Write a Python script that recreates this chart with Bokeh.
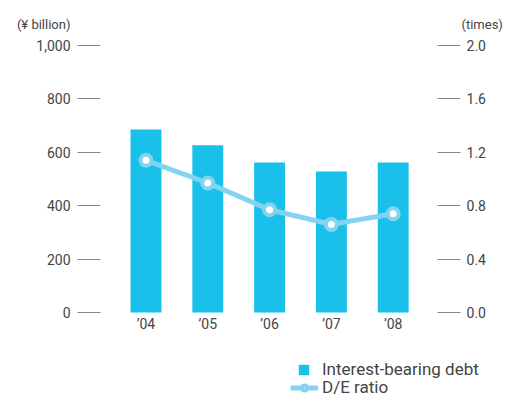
from bokeh.plotting import figure
from bokeh.models import (Range1d, LinearAxis, FixedTicker, NumeralTickFormatter,
                          Legend, LegendItem, ColumnDataSource, Label)
from bokeh.embed import file_html
from bokeh.resources import INLINE

years = ["’04", "’05", "’06", "’07", "’08"]
debt = [685, 626, 562, 528, 562]          # ¥ billion
de_ratio = [1.14, 0.97, 0.77, 0.66, 0.74]  # times
left_ticks = [0, 200, 400, 600, 800, 1000]
right_ticks = [0.0, 0.4, 0.8, 1.2, 1.6, 2.0]
units = ["(¥ billion)", "(times)"]
series = ["Interest-bearing debt", "D/E ratio"]

BAR = "#19C0E9"
LINE = "#84D4F1"
TXT = "#444444"
FONT = "Roboto"

# plotting area edges in x-data units (category index)
X_LEFT, X_RIGHT = -0.736, 4.717

xs = list(range(len(years)))
src = ColumnDataSource(dict(x=xs, debt=debt, de=de_ratio))

p = figure(width=522, height=397, output_backend="svg", toolbar_location=None,
           x_range=Range1d(-2.354, 6.092), y_range=Range1d(-318.4, 1168.5),
           x_axis_type=None, y_axis_type=None,
           min_border=0, min_border_left=0, min_border_right=0,
           min_border_top=0, min_border_bottom=0)
p.extra_y_ranges = {"de": Range1d(-0.6367, 2.337)}
p.outline_line_color = None

bars = p.vbar(x="x", top="debt", width=0.5, source=src, color=BAR, line_color=None)
ln = p.line(x="x", y="de", source=src, y_range_name="de", line_color=LINE, line_width=5)
mk = p.scatter(x="x", y="de", source=src, y_range_name="de", size=11,
               fill_color="white", line_color=LINE, line_width=4)

# x axis fixed at y = 0
xa = LinearAxis(fixed_location=0, ticker=FixedTicker(ticks=xs),
                major_label_overrides={i: y for i, y in zip(xs, years)})
xa.axis_line_color = None
xa.major_tick_line_color = None
xa.minor_tick_line_color = None
xa.major_tick_out = 0
xa.major_tick_in = 0
xa.major_label_standoff = 4
xa.major_label_text_font = FONT
xa.major_label_text_font_size = "14px"
xa.major_label_text_color = TXT
p.add_layout(xa, "below")

ya = LinearAxis(fixed_location=X_LEFT, ticker=FixedTicker(ticks=left_ticks),
                formatter=NumeralTickFormatter(format="0,0"))
ra = LinearAxis(fixed_location=X_RIGHT, y_range_name="de",
                ticker=FixedTicker(ticks=right_ticks),
                formatter=NumeralTickFormatter(format="0.0"))
for ax in (ya, ra):
    ax.axis_line_color = None
    ax.major_tick_in = 0
    ax.major_tick_out = 23
    ax.major_tick_line_color = "#8a8a8a"
    ax.major_tick_line_width = 1
    ax.minor_tick_line_color = None
    ax.major_label_text_font = FONT
    ax.major_label_text_font_size = "14px"
    ax.major_label_text_color = TXT
ya.major_label_standoff = 7
ra.major_label_standoff = 6
p.add_layout(ya, "left")
p.add_layout(ra, "right")

# unit captions
p.add_layout(Label(x=-1.222, y=1078.7, text=units[0], text_align="right",
                   text_baseline="middle", text_font=FONT, text_font_size="13px",
                   text_color=TXT))
p.add_layout(Label(x=5.105, y=1078.7, text=units[1], text_align="left",
                   text_baseline="middle", text_font=FONT, text_font_size="13px",
                   text_color=TXT))


def style(lg):
    lg.border_line_color = None
    lg.background_fill_alpha = 0
    lg.padding = 0
    lg.margin = 0
    lg.spacing = 0
    lg.label_text_font = FONT
    lg.label_text_font_size = "17px"
    lg.label_text_color = TXT
    lg.label_height = 13


lg1 = Legend(items=[LegendItem(label=series[0], renderers=[bars])],
             location=(297, 18), glyph_width=13, glyph_height=13, label_standoff=12)
lg2 = Legend(items=[LegendItem(label=series[1], renderers=[ln, mk])],
             location=(290, 0), glyph_width=28, glyph_height=13, label_standoff=4)
style(lg1)
style(lg2)
p.add_layout(lg1, "center")
p.add_layout(lg2, "center")

open("out.html", "w").write(file_html(p, INLINE))
